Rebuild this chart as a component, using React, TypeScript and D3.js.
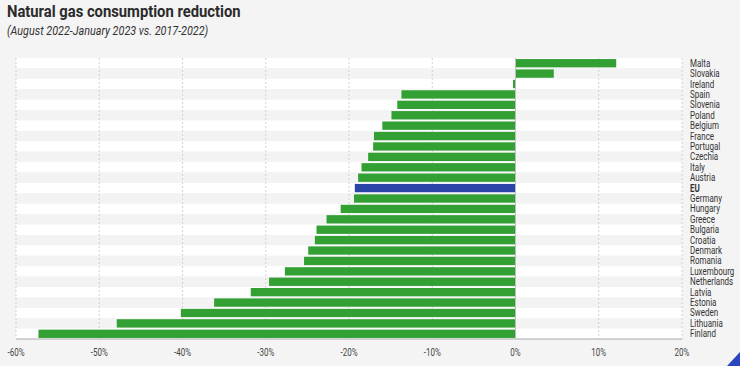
import * as d3 from "d3";
import { useEffect, useRef } from "react";

const countries = ["Malta", "Slovakia", "Ireland", "Spain", "Slovenia", "Poland", "Belgium", "France", "Portugal", "Czechia", "Italy", "Austria", "EU", "Germany", "Hungary", "Greece", "Bulgaria", "Croatia", "Denmark", "Romania", "Luxembourg", "Netherlands", "Latvia", "Estonia", "Sweden", "Lithuania", "Finland"];
const reduction = [12.1, 4.6, -0.3, -13.7, -14.2, -14.9, -16.0, -17.0, -17.1, -17.7, -18.5, -18.9, -19.3, -19.4, -21.0, -22.7, -23.9, -24.1, -24.9, -25.4, -27.7, -29.6, -31.8, -36.2, -40.2, -47.9, -57.3];
const xTicks = [-60, -50, -40, -30, -20, -10, 0, 10, 20];

const W = 740;
const H = 366;
const FONT = "Roboto, 'DejaVu Sans', sans-serif";
const SQUEEZE = 0.8; // fake a condensed face by squeezing text horizontally

const App = () => {
    const ref = useRef<SVGSVGElement>(null);

    useEffect(() => {
        const svg = d3.select(ref.current);
        svg.selectAll("*").remove();

        const left = 16, right = 682, top = 58, bottom = 339;

        svg.append("rect").attr("width", W).attr("height", H).attr("fill", "#f4f4f4");

        const x = d3.scaleLinear().domain([-60, 20]).range([left, right]);
        const y = d3.scaleBand().domain(countries).range([top, bottom]).paddingInner(0.2).paddingOuter(0.1);
        const band = d3.scaleBand().domain(countries).range([top, bottom]);

        // alternating row shading
        svg.append("g")
            .selectAll("rect")
            .data(countries)
            .join("rect")
            .attr("x", left)
            .attr("y", (d) => band(d)!)
            .attr("width", right - left)
            .attr("height", band.bandwidth())
            .attr("fill", (d, i) => (i % 2 === 0 ? "#ffffff" : "#f3f3f3"));

        // dashed gridlines
        svg.append("g")
            .selectAll("line")
            .data(xTicks.filter((t) => t !== 0))
            .join("line")
            .attr("x1", (d) => x(d))
            .attr("x2", (d) => x(d))
            .attr("y1", top)
            .attr("y2", bottom)
            .attr("stroke", "#c8c8c8")
            .attr("stroke-width", 0.8)
            .attr("stroke-dasharray", "2,2");

        // bars
        svg.append("g")
            .selectAll("rect")
            .data(countries)
            .join("rect")
            .attr("x", (d, i) => x(Math.min(0, reduction[i])))
            .attr("y", (d) => y(d)!)
            .attr("width", (d, i) => Math.abs(x(reduction[i]) - x(0)))
            .attr("height", y.bandwidth())
            .attr("fill", (d) => (d === "EU" ? "#2a45a6" : "#33a033"));

        // zero line
        svg.append("line")
            .attr("x1", x(0)).attr("x2", x(0))
            .attr("y1", top).attr("y2", bottom)
            .attr("stroke", "#bdbdbd").attr("stroke-width", 1);

        // x axis
        svg.append("line")
            .attr("x1", left).attr("x2", right)
            .attr("y1", bottom).attr("y2", bottom)
            .attr("stroke", "#aaaaaa");
        svg.append("g")
            .selectAll("text")
            .data(xTicks)
            .join("text")
            .attr("transform", (d) => "translate(" + x(d) + "," + (bottom + 17) + ") scale(" + SQUEEZE + ",1)")
            .attr("text-anchor", "middle")
            .attr("font-family", FONT)
            .attr("font-size", 10)
            .attr("fill", "#444")
            .text((d) => d + "%");

        // country labels
        svg.append("g")
            .selectAll("text")
            .data(countries)
            .join("text")
            .attr("transform", (d) => "translate(690," + (band(d)! + band.bandwidth() / 2) + ") scale(" + SQUEEZE + ",1)")
            .attr("dy", "0.35em")
            .attr("font-family", FONT)
            .attr("font-size", 10)
            .attr("font-weight", (d) => (d === "EU" ? "bold" : "normal"))
            .attr("fill", "#333")
            .text((d) => d);

        // title
        svg.append("text")
            .attr("transform", "translate(7,17) scale(0.87,1)")
            .attr("font-family", FONT)
            .attr("font-size", 17)
            .attr("font-weight", "bold")
            .attr("fill", "#2b2b2b")
            .text("Natural gas consumption reduction");
        svg.append("text")
            .attr("transform", "translate(7,35) scale(0.9,1)")
            .attr("font-family", FONT)
            .attr("font-size", 12)
            .attr("font-style", "italic")
            .attr("fill", "#333")
            .text("(August 2022-January 2023 vs. 2017-2022)");

        // corner decoration
        svg.append("path")
            .attr("d", "M727,366 L740,352 L740,366 Z")
            .attr("fill", "#2a45c0");
    }, []);

    return <svg ref={ref} width={W} height={H} style={{ position: "absolute", left: 0, top: 0 }} />;
};

export default App;
